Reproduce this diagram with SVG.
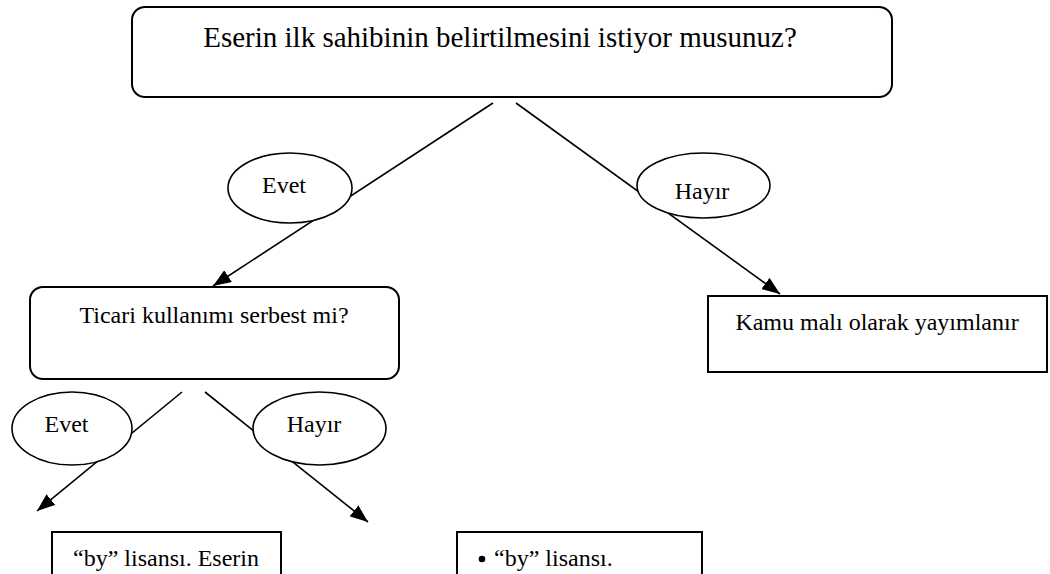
<svg xmlns="http://www.w3.org/2000/svg" width="1050" height="574" viewBox="0 0 1050 574">
<defs>
<style>
.t{font-family:"Liberation Serif","Times New Roman",serif;fill:#000;font-size:24px}
.box{fill:#fff;stroke:#000;stroke-width:2}
.ell{fill:#fff;stroke:#000;stroke-width:1.6}
.ln{stroke:#000;stroke-width:1.6;fill:none}
</style>
<marker id="ah" viewBox="0 0 18 14" refX="18" refY="7" markerWidth="18" markerHeight="14" markerUnits="userSpaceOnUse" orient="auto">
<path d="M0,0 L18,7 L0,14 z" fill="#000"/>
</marker>
</defs>
<rect width="1050" height="574" fill="#fff"/>
<g id="connectors">
<line class="ln" x1="493" y1="103" x2="213" y2="286" marker-end="url(#ah)"/>
<line class="ln" x1="516" y1="103" x2="780" y2="294" marker-end="url(#ah)"/>
<line class="ln" x1="182" y1="392" x2="37" y2="511" marker-end="url(#ah)"/>
<line class="ln" x1="205" y1="392" x2="368" y2="522" marker-end="url(#ah)"/>
</g>
<g id="q1">
<rect class="box" x="132" y="7" width="760" height="90" rx="13"/>
<text class="t" x="500" y="47" style="font-size:29px" text-anchor="middle">Eserin ilk sahibinin belirtilmesini istiyor musunuz?</text>
</g>
<g id="evet1">
<ellipse class="ell" cx="290" cy="188" rx="62" ry="35"/>
<text class="t" x="284" y="193" text-anchor="middle">Evet</text>
</g>
<g id="hayir1">
<ellipse class="ell" cx="703.5" cy="185.5" rx="66.5" ry="32.5"/>
<text class="t" x="702" y="199" text-anchor="middle">Hayır</text>
</g>
<g id="q2">
<rect class="box" x="30" y="287" width="369" height="92" rx="13"/>
<text class="t" x="214" y="323" text-anchor="middle">Ticari kullanımı serbest mi?</text>
</g>
<g id="kamu">
<rect class="box" x="708" y="296" width="339" height="76"/>
<text class="t" x="877" y="330" text-anchor="middle">Kamu malı olarak yayımlanır</text>
</g>
<g id="evet2">
<ellipse class="ell" cx="72" cy="428.5" rx="60" ry="36.5"/>
<text class="t" x="66.5" y="432" text-anchor="middle">Evet</text>
</g>
<g id="hayir2">
<ellipse class="ell" cx="319.5" cy="428.5" rx="66.5" ry="36.5"/>
<text class="t" x="314" y="432" text-anchor="middle">Hayır</text>
</g>
<g id="by1">
<rect class="box" x="52" y="532" width="229" height="60"/>
<text class="t" x="73" y="566">“by” lisansı. Eserin</text>
</g>
<g id="by2">
<rect class="box" x="457" y="532" width="245" height="60"/>
<circle cx="482" cy="559" r="3.3" fill="#000"/>
<text class="t" x="494" y="566">“by” lisansı.</text>
</g>
</svg>
